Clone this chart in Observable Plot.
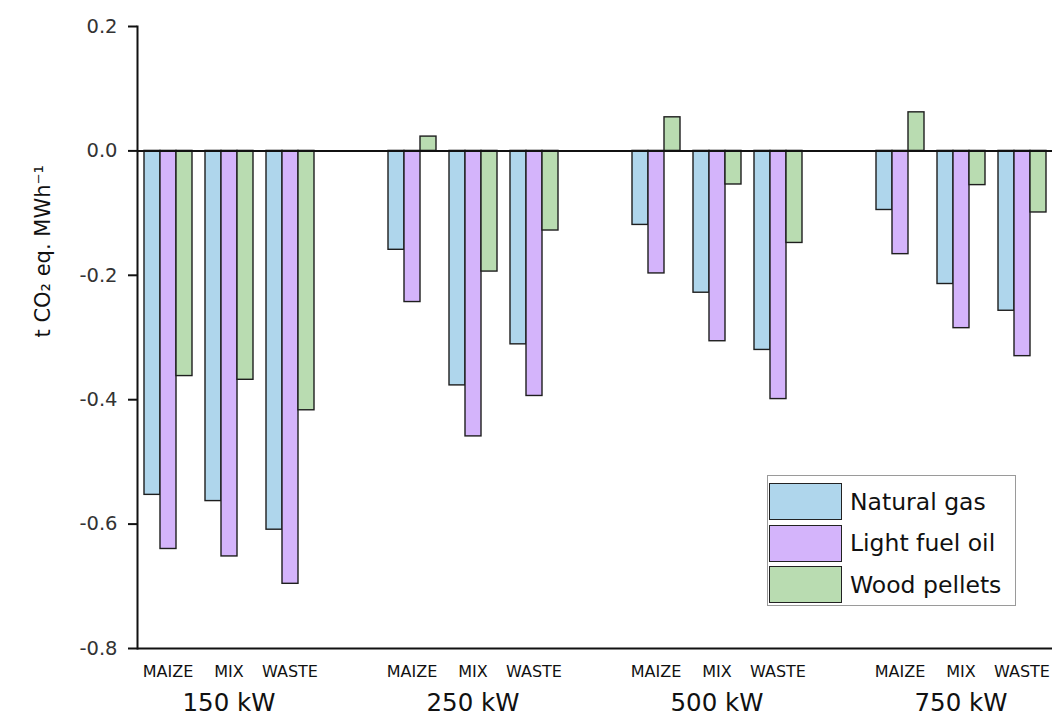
<!DOCTYPE html>
<html>
<head>
<meta charset="utf-8">
<script src="https://cdn.jsdelivr.net/npm/d3@7"></script>
<script src="https://cdn.jsdelivr.net/npm/@observablehq/plot@0.6"></script>
<style>
  html, body { margin: 0; padding: 0; background: #fff; }
  #wrap { position: relative; width: 1056px; height: 720px; font-family: "DejaVu Sans", sans-serif; }
  #legend { position: absolute; left: 767px; top: 475px; width: 247px; height: 129px; border: 1px solid #9a9a9a; background: #fff; }
  .row { position: absolute; left: 1px; height: 37px; display: flex; align-items: center; }
  .sw { width: 71px; height: 35px; border: 1.5px solid #222; box-sizing: content-box; }
  .lab { margin-left: 8px; font-size: 23.5px; color: #111; white-space: nowrap; }
</style>
</head>
<body>
<div id="wrap"><div id="legend"></div></div>
<script>
// ---- data ----
const groups = ["150 kW", "250 kW", "500 kW", "750 kW"];
const feedstocks = ["MAIZE", "MIX", "WASTE"];
const fuels = ["Natural gas", "Light fuel oil", "Wood pellets"];
const fuelColors = ["#afd6ec", "#d4b4fb", "#b9dcb1"];
// values in order: 150 kW (MAIZE, MIX, WASTE), 250 kW (...), 500 kW (...), 750 kW (...)
const naturalGas   = [-0.553, -0.563, -0.609, -0.159, -0.377, -0.311, -0.119, -0.228, -0.320, -0.095, -0.214, -0.257];
const lightFuelOil = [-0.640, -0.652, -0.696, -0.243, -0.459, -0.394, -0.197, -0.306, -0.399, -0.166, -0.285, -0.330];
const woodPellets  = [-0.362, -0.368, -0.417,  0.023, -0.194, -0.128,  0.054, -0.054, -0.148,  0.062, -0.055, -0.099];
const yTicks = [0.2, 0.0, -0.2, -0.4, -0.6, -0.8];
const yLabel = "t CO\u2082 eq. MWh\u207B\u00B9";

// ---- build table ----
const series = [naturalGas, lightFuelOil, woodPellets];
const slots = [];
groups.forEach((g, gi) => {
  feedstocks.forEach(f => slots.push(g + "|" + f));
  if (gi < groups.length - 1) slots.push(g + "|");
});
const rows = [];
groups.forEach((g, gi) => feedstocks.forEach((f, fi) => fuels.forEach((fuel, k) => {
  rows.push({slot: g + "|" + f, fuel, value: series[k][gi * feedstocks.length + fi]});
})));
const groupLabels = groups.map(g => ({slot: g + "|MIX", label: g}));

const chart = Plot.plot({
  width: 1056,
  height: 720,
  marginLeft: 134,
  marginRight: 1,
  marginTop: 26,
  marginBottom: 72,
  style: {fontFamily: "DejaVu Sans, sans-serif", background: "transparent", color: "#111"},
  fx: {domain: slots, padding: 0, label: null, axis: null},
  x: {domain: fuels, paddingInner: 0, paddingOuter: 0.379, axis: null},
  y: {domain: [-0.8, 0.2], axis: null},
  color: {domain: fuels, range: fuelColors},
  marks: [
    Plot.barY(rows, {fx: "slot", x: "fuel", y: "value", fill: "fuel", stroke: "#1e1e1e", strokeWidth: 1.4}),
    Plot.ruleY(slots, {fx: d => d, y: () => 0, stroke: "#111", strokeWidth: 2}),
    Plot.ruleY(slots, {fx: d => d, y: () => -0.8, stroke: "#111", strokeWidth: 2}),
    Plot.frame({anchor: "left", facetAnchor: "left", stroke: "#111", strokeWidth: 2}),
    Plot.axisY({
      facetAnchor: "left", ticks: yTicks, tickFormat: d => d.toFixed(1),
      tickSize: 9, tickPadding: 11, fontSize: 19.5, color: "#333", stroke: "#111", strokeWidth: 2,
      label: null
    }),
    Plot.text([yLabel], {fx: () => slots[0], text: d => d, frameAnchor: "left", rotate: -90, dx: -94, fontSize: 21, fill: "#111"}),
    Plot.axisFx({
      anchor: "bottom", tickSize: 0, tickPadding: 17, fontSize: 16,
      tickFormat: s => s.split("|")[1], label: null
    }),
    Plot.text(groupLabels, {fx: "slot", text: "label", frameAnchor: "bottom", dy: 62, fontSize: 24.5, fill: "#111"})
  ]
});
chart.style.position = "absolute";
chart.style.left = "0";
chart.style.top = "0";
document.getElementById("wrap").prepend(chart);

// ---- legend ----
const legend = document.getElementById("legend");
fuels.forEach((f, i) => {
  const row = document.createElement("div");
  row.className = "row";
  row.style.top = (7 + i * 41.5) + "px";
  const sw = document.createElement("div");
  sw.className = "sw";
  sw.style.background = fuelColors[i];
  const lab = document.createElement("span");
  lab.className = "lab";
  lab.textContent = f;
  row.appendChild(sw);
  row.appendChild(lab);
  legend.appendChild(row);
});
</script>
</body>
</html>
